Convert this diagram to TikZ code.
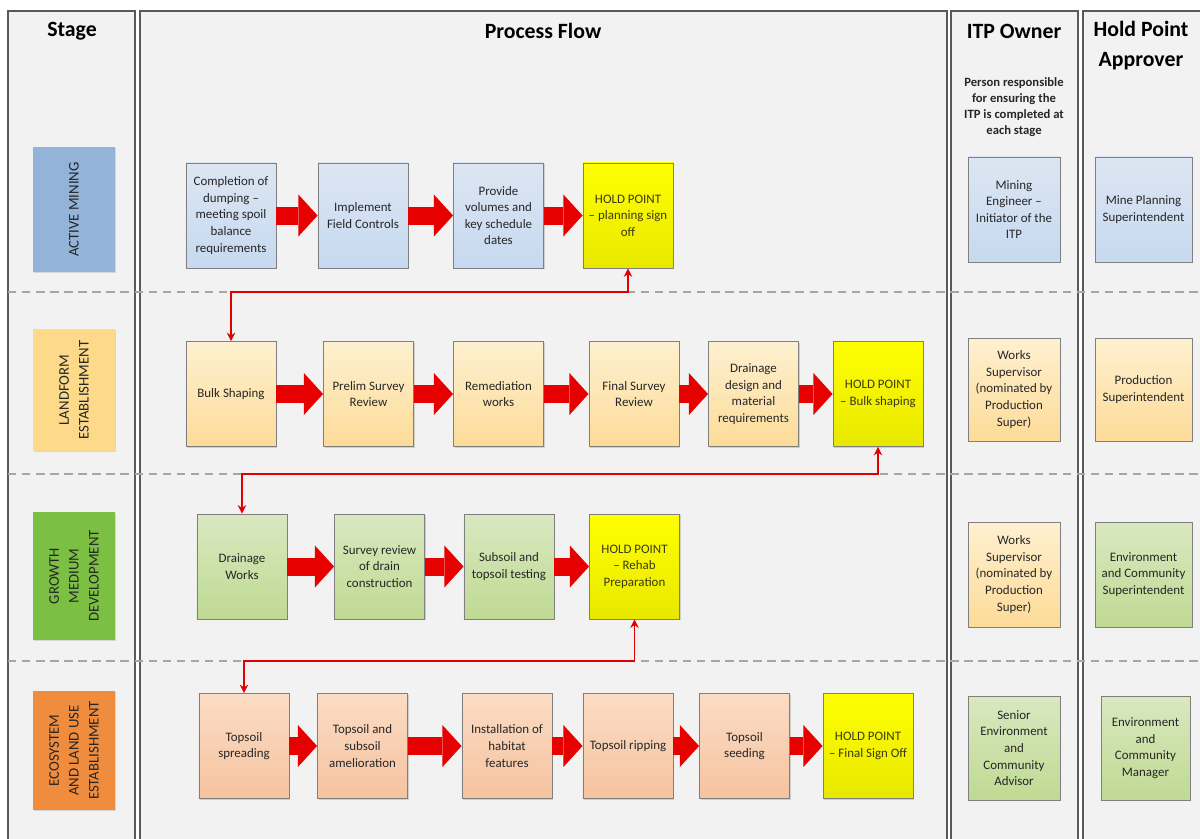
\documentclass[tikz,border=0pt]{standalone}
\usepackage{fontspec}
\setmainfont{Carlito}
\usetikzlibrary{arrows.meta,shadows}

\definecolor{lanegray}{HTML}{F2F2F2}
\definecolor{lanedark}{HTML}{595959}
\definecolor{sepgray}{HTML}{A6A6A6}
\definecolor{boxedge}{HTML}{7F7F7F}
\definecolor{txtdark}{HTML}{262626}
\definecolor{holdtxt}{HTML}{3A3A10}
\definecolor{arrowred}{HTML}{E60000}
\definecolor{linkred}{HTML}{E00000}
\definecolor{blueT}{HTML}{DCE6F2}
\definecolor{blueB}{HTML}{C6D9F0}
\definecolor{sandT}{HTML}{FEF0D0}
\definecolor{sandB}{HTML}{FDDB98}
\definecolor{leafT}{HTML}{D9E8C0}
\definecolor{leafB}{HTML}{BFDA93}
\definecolor{clayT}{HTML}{FBDCC4}
\definecolor{clayB}{HTML}{F5C3A0}
\definecolor{yellowT}{HTML}{FFFF00}
\definecolor{yellowB}{HTML}{E8E800}
\definecolor{stblue}{HTML}{93B3D8}
\definecolor{stsand}{HTML}{FDD98A}
\definecolor{stleaf}{HTML}{7CC043}
\definecolor{stclay}{HTML}{EF8C3E}

\tikzset{
  lane/.style={draw=lanedark, line width=1pt, fill=lanegray},
  lanesep/.style={draw=sepgray, line width=0.8pt, dash pattern=on 6pt off 4pt},
  headtext/.style={font=\fontsize{15.5}{21.3}\selectfont\bfseries, align=center, text=black},
  stagebox/.style={rotate=90, minimum height=2.05cm, align=center, text=txtdark,
    font=\fontsize{10.5}{14.2}\selectfont,
    drop shadow={shadow xshift=1pt, shadow yshift=-1pt, opacity=0.25}},
  task/.style={draw=boxedge, line width=0.6pt, minimum width=2.25cm, minimum height=2.625cm,
    align=center, text=txtdark, font=\fontsize{9.2}{11.8}\selectfont,
    drop shadow={shadow xshift=1pt, shadow yshift=-1pt, opacity=0.3}},
  bluebox/.style={task, top color=blueT, bottom color=blueB},
  sandbox/.style={task, top color=sandT, bottom color=sandB},
  leafbox/.style={task, top color=leafT, bottom color=leafB},
  claybox/.style={task, top color=clayT, bottom color=clayB},
  holdbox/.style={task, top color=yellowT, bottom color=yellowB, text=holdtxt},
  flowarrow/.style={draw=arrowred, line width=0.45cm,
    -{Triangle[length=0.48cm, width=1.05cm, line width=0pt]}},
  redlink/.style={draw=linkred, line width=1.4pt,
    {Stealth[length=6pt, width=6pt]}-{Stealth[length=6pt, width=6pt]}}
}

\begin{document}
\begin{tikzpicture}[x=0.025cm, y=-0.025cm]
\useasboundingbox (0,0) rectangle (1200,838);
\clip (0,0) rectangle (1200,838);
\fill[white] (0,0) rectangle (1200,838);

% lanes
\draw[lane] (8,11) rectangle (135,860);
\draw[lane] (140,11) rectangle (947,860);
\draw[lane] (951,11) rectangle (1078,860);
\draw[lane] (1083,11) rectangle (1220,860);

\coordinate (gapA) at (8,292);
\coordinate (gapB) at (8,474);
\coordinate (gapC) at (8,661);
\draw[lanesep] (gapA) -- (1200,292);
\draw[lanesep] (gapB) -- (1200,474);
\draw[lanesep] (gapC) -- (1200,661);

% headings
\node[headtext] (hdstage) at (72,31) {Stage};
\node[headtext] (hdflow) at (543,31) {Process Flow};
\node[headtext] (hdowner) at (1014,31) {ITP Owner};
\node[headtext] (hdappr) at (1141,46) {Hold Point\\Approver};
\node[align=center, font=\fontsize{9}{11.3}\selectfont\bfseries, text=txtdark] (ownernote) at (1014,107)
  {Person responsible\\for ensuring the\\ITP is completed at\\each stage};

% stages
\node[stagebox, fill=stblue, minimum width=3.125cm] (stmining) at (74,209.5) {ACTIVE MINING};
\node[stagebox, fill=stsand, minimum width=3.05cm] (stland) at (74,390) {LANDFORM\\ESTABLISHMENT};
\node[stagebox, fill=stleaf, minimum width=3.2cm] (stgrowth) at (74,576) {GROWTH\\MEDIUM\\DEVELOPMENT};
\node[stagebox, fill=stclay, minimum width=2.975cm] (steco) at (74,750.5) {ECOSYSTEM\\AND LAND USE\\ESTABLISHMENT};

% row 1
\node[bluebox] (dump) at (231,215.5) {Completion of\\dumping –\\meeting spoil\\balance\\requirements};
\node[bluebox] (field) at (363,215.5) {Implement\\Field Controls};
\node[bluebox] (volumes) at (498.5,215.5) {Provide\\volumes and\\key schedule\\dates};
\node[holdbox] (hpplan) at (628,215.5) {HOLD POINT\\– planning sign\\off};

% row 2
\node[sandbox] (bulk) at (231,394) {Bulk Shaping};
\node[sandbox] (prelim) at (368.5,394) {Prelim Survey\\Review};
\node[sandbox] (remed) at (498.5,394) {Remediation\\works};
\node[sandbox] (final) at (634,394) {Final Survey\\Review};
\node[sandbox] (drdesign) at (753.5,394) {Drainage\\design and\\material\\requirements};
\node[holdbox] (hpbulk) at (878,394) {HOLD POINT\\– Bulk shaping};

% row 3
\node[leafbox] (drworks) at (242,566.5) {Drainage\\Works};
\node[leafbox] (drsurvey) at (379.5,566.5) {Survey review\\of drain\\construction};
\node[leafbox] (soiltest) at (509,566.5) {Subsoil and\\topsoil testing};
\node[holdbox] (hprehab) at (634.5,566.5) {HOLD POINT\\– Rehab\\Preparation};

% row 4
\node[claybox] (spread) at (244,746) {Topsoil\\spreading};
\node[claybox] (amel) at (362.5,746) {Topsoil and\\subsoil\\amelioration};
\node[claybox] (habitat) at (507,746) {Installation of\\habitat\\features};
\node[claybox] (ripping) at (628,746) {Topsoil ripping};
\node[claybox] (seeding) at (744.5,746) {Topsoil\\seeding};
\node[holdbox] (hpfinal) at (868,746) {HOLD POINT\\– Final Sign Off};

% owners and approvers
\node[bluebox, minimum width=2.3cm] (ownmine) at (1014,209.5) {Mining\\Engineer –\\Initiator of the\\ITP};
\node[sandbox, minimum width=2.3cm, minimum height=2.575cm] (ownland) at (1014,389.5) {Works\\Supervisor\\(nominated by\\Production\\Super)};
\node[sandbox, minimum width=2.3cm] (owngrow) at (1014,574.5) {Works\\Supervisor\\(nominated by\\Production\\Super)};
\node[leafbox, minimum width=2.3cm, minimum height=2.6cm] (owneco) at (1014,748) {Senior\\Environment\\and\\Community\\Advisor};
\node[bluebox, minimum width=2.425cm] (aprmine) at (1143.5,209.5) {Mine Planning\\Superintendent};
\node[sandbox, minimum width=2.425cm, minimum height=2.575cm] (aprland) at (1143.5,389.5) {Production\\Superintendent};
\node[leafbox, minimum width=2.425cm] (aprgrow) at (1143.5,574.5) {Environment\\and Community\\Superintendent};
\node[leafbox, minimum width=2.225cm, minimum height=2.6cm] (apreco) at (1145.5,748) {Environment\\and\\Community\\Manager};

% flow arrows
\draw[flowarrow] (dump.east) -- (field.west);
\draw[flowarrow] (field.east) -- (volumes.west);
\draw[flowarrow] (volumes.east) -- (hpplan.west);
\draw[flowarrow] (bulk.east) -- (prelim.west);
\draw[flowarrow] (prelim.east) -- (remed.west);
\draw[flowarrow] (remed.east) -- (final.west);
\draw[flowarrow] (final.east) -- (drdesign.west);
\draw[flowarrow] (drdesign.east) -- (hpbulk.west);
\draw[flowarrow] (drworks.east) -- (drsurvey.west);
\draw[flowarrow] (drsurvey.east) -- (soiltest.west);
\draw[flowarrow] (soiltest.east) -- (hprehab.west);
\draw[flowarrow] (spread.east) -- (amel.west);
\draw[flowarrow] (amel.east) -- (habitat.west);
\draw[flowarrow] (habitat.east) -- (ripping.west);
\draw[flowarrow] (ripping.east) -- (seeding.west);
\draw[flowarrow] (seeding.east) -- (hpfinal.west);

% hold point links
\draw[redlink] (hpplan.south) -- (hpplan.south |- gapA) -| (bulk.north);
\draw[redlink] (hpbulk.south) -- (hpbulk.south |- gapB) -| (drworks.north);
\draw[redlink] (hprehab.south) -- (hprehab.south |- gapC) -| (spread.north);
\end{tikzpicture}
\end{document}
